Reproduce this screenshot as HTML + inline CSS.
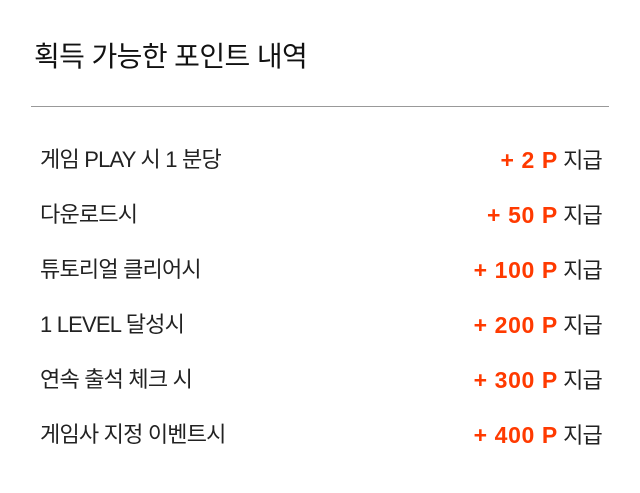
<!DOCTYPE html>
<html><head><meta charset="utf-8"><style>
body{margin:0;width:640px;height:493px;background:#fff;font-family:"Liberation Sans","Noto Sans CJK KR",sans-serif;color:#222;position:relative;overflow:hidden}
.title{position:absolute;left:34px;top:38px;font-size:28px;line-height:38px;letter-spacing:-0.6px;color:#111}
.rule{position:absolute;left:31px;top:106px;width:578px;height:1px;background:#999}
.row{position:absolute;left:40px;width:562px;height:30px;line-height:30px;font-size:22px;letter-spacing:-0.8px}
.row .l{position:absolute;left:0}
.row .r{position:absolute;right:0}
.pt{color:#ff3a00;font-weight:bold;letter-spacing:0.6px;font-size:23px}
</style></head><body>
<div class="title">획득 가능한 포인트 내역</div>
<div class="rule"></div>
<div class="row" style="top:145px"><span class="l">게임 PLAY 시 1 분당</span><span class="r"><span class="pt">+ 2 P</span> 지급</span></div>
<div class="row" style="top:200px"><span class="l">다운로드시</span><span class="r"><span class="pt">+ 50 P</span> 지급</span></div>
<div class="row" style="top:255px"><span class="l">튜토리얼 클리어시</span><span class="r"><span class="pt">+ 100 P</span> 지급</span></div>
<div class="row" style="top:310px"><span class="l">1 LEVEL 달성시</span><span class="r"><span class="pt">+ 200 P</span> 지급</span></div>
<div class="row" style="top:365px"><span class="l">연속 출석 체크 시</span><span class="r"><span class="pt">+ 300 P</span> 지급</span></div>
<div class="row" style="top:420px"><span class="l">게임사 지정 이벤트시</span><span class="r"><span class="pt">+ 400 P</span> 지급</span></div>
</body></html>
